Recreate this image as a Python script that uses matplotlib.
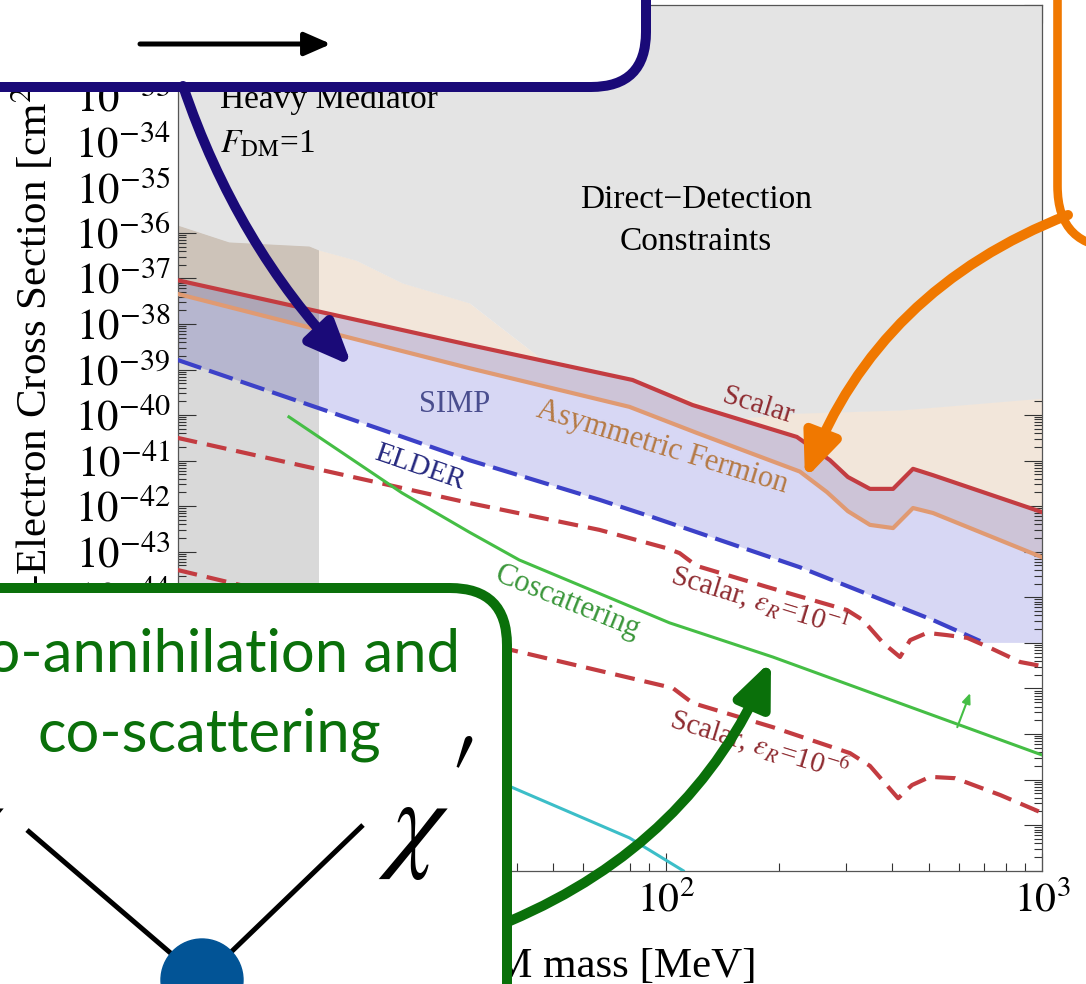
import numpy as np
import matplotlib
matplotlib.use("Agg")
import matplotlib.pyplot as plt
from matplotlib.patches import FancyBboxPatch, FancyArrowPatch, Circle, ArrowStyle
from matplotlib.ticker import LogLocator, NullFormatter, FuncFormatter

plt.rcParams["font.family"] = ["Liberation Serif", "DejaVu Serif"]
plt.rcParams["mathtext.fontset"] = "stix"

# datos: masa DM en MeV, log10 de la seccion eficaz [cm^2]
dd_mass = [5, 6.85, 11.2, 11.9, 14.9, 19.8, 29.9, 45.9, 81.3, 122.7, 156.9, 222.6, 418.8, 1000]
dd_logsig = [-35.83, -36.20, -36.29, -36.38, -36.60, -37.10, -37.54, -38.73, -39.20, -39.74,
             -40.07, -39.96, -39.89, -39.63]

scalar_mass = [5, 29.9, 81.3, 117.5, 222.6, 272.6, 304.4, 348.4, 401.4, 453.6, 512.9, 1000]
scalar_logsig = [-37.04, -38.46, -39.23, -39.78, -40.48, -40.99, -41.36, -41.62, -41.62,
                 -41.18, -41.32, -42.13]

fermion_mass = [5, 29.9, 79.8, 120.4, 226.7, 267.6, 304.4, 348.4, 401.4, 453.6, 512.9, 1000]
fermion_logsig = [-37.34, -38.97, -39.82, -40.39, -41.24, -41.69, -42.11, -42.41, -42.48,
                  -42.04, -42.15, -43.12]

elder_mass = [5, 17.2, 29.9, 66.4, 91.9, 226.7, 512.9, 684.6]
elder_logsig = [-38.79, -40.30, -40.99, -41.86, -42.24, -43.34, -44.50, -44.96]
simp_floor_mass = [684.6, 1000]
simp_floor_logsig = [-45.0, -45.0]

eps1_mass = [5, 29.9, 66.4, 100, 108.5, 120.4, 185.1, 302.7, 333.8, 377.5, 418.8, 445.7,
             494.3, 559.1, 632.4, 727.8, 875, 1000]
eps1_logsig = [-40.50, -41.93, -42.52, -42.92, -43.03, -43.31, -43.77, -44.28, -44.50, -45.00,
               -45.31, -44.94, -44.78, -44.83, -44.89, -45.11, -45.42, -45.51]

eps6_mass = [5, 38.9, 104, 117.5, 192.1, 308.3, 348.4, 414, 450.8, 503.5, 587.5, 774.5, 1000]
eps6_logsig = [-43.40, -45.16, -45.99, -46.32, -46.85, -47.42, -47.70, -48.41, -48.12, -47.94,
               -47.97, -48.34, -48.73]

cosc_mass = [9.9, 19.8, 29.9, 40.6, 102, 192.1, 1000]
cosc_logsig = [-40.04, -41.71, -42.57, -43.18, -44.56, -45.31, -47.46]

cyan_mass = [37.1, 79.8, 110.9]
cyan_logsig = [-48.10, -49.28, -50.0]

band_mass = [5, 11.9]
cosc_arrow_mass = [595, 644]
cosc_arrow_logsig = [-46.85, -46.10]

# exponentes de las etiquetas que quedan a la vista (el resto lo tapan los recuadros)
y_label_exp = range(-44, -32)
x_label_exp = [2, 3]

W, H = 1086, 984
fig = plt.figure(figsize=(W / 100, H / 100), dpi=100)
ax = fig.add_axes([177.5 / W, 1 - 870.7 / H, (1042 - 177.5) / W, (870.7 - 5) / H])
ax.set_xscale("log")
ax.set_yscale("log")
ax.set_xlim(5, 1000)
ax.set_ylim(1e-50, 1e-31)

sig = lambda a: 10.0 ** np.asarray(a)

# regiones
ax.fill_between(dd_mass, sig(dd_logsig), 1e-31, color="#e4e4e4", lw=0, zorder=1.6)
ax.fill(dd_mass + fermion_mass[::-1], np.concatenate([sig(dd_logsig), sig(fermion_logsig)[::-1]]),
        color="#f2e6da", lw=0, zorder=1.0)
low_m = elder_mass + simp_floor_mass
low_s = elder_logsig + simp_floor_logsig
ax.fill(scalar_mass + low_m[::-1], np.concatenate([sig(scalar_logsig), sig(low_s)[::-1]]),
        color=(0.35, 0.35, 0.82), alpha=0.24, lw=0, zorder=1.1)
ax.axvspan(band_mass[0], band_mass[1], color="k", alpha=0.15, lw=0, zorder=1.5)

# curvas
ax.plot(scalar_mass, sig(scalar_logsig), color="#c33c41", lw=3, zorder=3)
ax.plot(fermion_mass, sig(fermion_logsig), color="#e09a72", lw=3, zorder=2.9)
ax.plot(elder_mass, sig(elder_logsig), color="#3c41c8", lw=3, dashes=(6, 2), zorder=3)
ax.plot(eps1_mass, sig(eps1_logsig), color="#c33c41", lw=3, dashes=(4.8, 2.4), zorder=3)
ax.plot(eps6_mass, sig(eps6_logsig), color="#c33c41", lw=3, dashes=(4.8, 2.4), zorder=3)
ax.plot(cosc_mass, sig(cosc_logsig), color="#45be45", lw=2.2, zorder=3)
ax.plot(cyan_mass, sig(cyan_logsig), color="#3cbec8", lw=2.2, zorder=3)
ax.annotate("", xy=(cosc_arrow_mass[1], sig(cosc_arrow_logsig[1])),
            xytext=(cosc_arrow_mass[0], sig(cosc_arrow_logsig[0])),
            arrowprops=dict(arrowstyle="-|>,head_length=0.6,head_width=0.25", color="#45be45", lw=1.5,
                            shrinkA=0, shrinkB=0), zorder=3)

# etiquetas
ax.text(6.5, 5.5e-34, "Heavy Mediator", fontsize=24, va="baseline", zorder=4)
ax.text(6.5, 5.9e-35, r"$F_{\mathrm{DM}}$=1", fontsize=24, va="baseline", zorder=4)
ax.text(120, 3.5e-36, "Direct\u2212Detection", fontsize=24, ha="center", va="baseline", zorder=4)
ax.text(120, 4.2e-37, "Constraints", fontsize=24, ha="center", va="baseline", zorder=4)
ax.text(27.3, 1.17e-40, "SIMP", fontsize=22, color="#4a4e8e", ha="center", va="baseline", zorder=4)
lab = dict(rotation_mode="anchor", ha="center", va="center", zorder=4)
ax.text(22.0, 6.9e-42, "ELDER", fontsize=21, color="#25287e", rotation=-19, **lab)
ax.text(97.2, 2.0e-41, "Asymmetric Fermion", fontsize=22, color="#b57a45", rotation=-17, **lab)
ax.text(175.5, 1.58e-40, "Scalar", fontsize=21, color="#8e2b30", rotation=-17, **lab)
ax.text(177.4, 8.7e-45, r"Scalar, $\varepsilon_R$=10$^{-1}$", fontsize=21, color="#8e2b30",
        rotation=-17, **lab)
ax.text(177.4, 5.75e-48, r"Scalar, $\varepsilon_R$=10$^{-6}$", fontsize=21, color="#8e2b30",
        rotation=-17, **lab)
ax.text(54.5, 7.9e-45, "Coscattering", fontsize=22, color="#3a963a", rotation=-22, **lab)

# ejes
def exp_label(shown):
    def f(v, pos):
        e = int(round(np.log10(v)))
        return f"$10^{{{e}}}$" if e in shown else ""
    return FuncFormatter(f)

ax.yaxis.set_major_locator(LogLocator(base=10, numticks=40))
ax.yaxis.set_minor_locator(LogLocator(base=10, subs=np.arange(2, 10), numticks=40))
ax.xaxis.set_minor_locator(LogLocator(base=10, subs=np.arange(2, 10), numticks=40))
ax.yaxis.set_major_formatter(exp_label(list(y_label_exp)))
ax.xaxis.set_major_formatter(exp_label(x_label_exp))
ax.xaxis.set_minor_formatter(NullFormatter())
ax.yaxis.set_minor_formatter(NullFormatter())
ax.tick_params(which="both", direction="in", top=True, right=True, color="#333333", width=0.8)
ax.tick_params(which="major", length=13)
ax.tick_params(which="minor", length=5.5)
ax.tick_params(axis="y", which="major", pad=5, labelsize=31)
ax.tick_params(axis="x", which="major", pad=8, labelsize=30)
for s in ax.spines.values():
    s.set_color("#555555")
    s.set_linewidth(0.9)

ax.set_xlabel("DM mass [MeV]", fontsize=31, va="baseline")
ax.xaxis.set_label_coords(0.5, (870.7 - 977) / 865.7)
ax.set_ylabel("DM-Electron Cross Section [cm$^2$]", fontsize=31, ha="left", va="baseline")
ax.yaxis.set_label_coords((47 - 177.5) / 864.5, (870.7 - 658) / 865.7)

# capa de anotaciones de la diapositiva (coordenadas en pixeles)
ov = fig.add_axes([0, 0, 1, 1], zorder=10)
ov.set_xlim(0, W)
ov.set_ylim(H, 0)
ov.axis("off")
ov.patch.set_alpha(0)

navy, orange, green = "#1a0a78", "#f07800", "#0a700a"
ov.add_patch(FancyBboxPatch((-80, -80), 726, 167, boxstyle="round,pad=0,rounding_size=55",
                            fc="white", ec=navy, lw=7.2))
ov.add_patch(FancyBboxPatch((1057.5, -80), 200, 328, boxstyle="round,pad=0,rounding_size=62",
                            fc="white", ec=orange, lw=6.2))
ov.add_patch(FancyBboxPatch((-120, 588), 627, 500, boxstyle="round,pad=0,rounding_size=57",
                            fc="white", ec=green, lw=7.2))

ov.add_patch(FancyArrowPatch((140, 44), (331, 44), arrowstyle=ArrowStyle("-|>", head_length=16, head_width=7),
                             color="black", lw=3.6, shrinkA=0, shrinkB=0, mutation_scale=1))
big = ArrowStyle("-|>", head_length=26, head_width=11)
ov.add_patch(FancyArrowPatch((183, 86), (352, 366), connectionstyle="arc3,rad=0.11", arrowstyle=big,
                             color=navy, lw=7.2, shrinkA=0, shrinkB=0, mutation_scale=1))
ov.add_patch(FancyArrowPatch((1068, 215), (805, 479), connectionstyle="arc3,rad=0.22", arrowstyle=big,
                             color=orange, lw=7.2, shrinkA=0, shrinkB=0, mutation_scale=1))
ov.add_patch(FancyArrowPatch((510, 921), (771, 661), connectionstyle="arc3,rad=0.2", arrowstyle=big,
                             color=green, lw=7.2, shrinkA=0, shrinkB=0, mutation_scale=1))

ov.text(209, 672, "co-annihilation and", fontsize=43, family="Lato", color=green, ha="center", va="baseline")
ov.text(209, 752, "co-scattering", fontsize=43, family="Lato", color=green, ha="center", va="baseline")
ov.plot([27, 202], [830, 980], color="black", lw=3.6, solid_capstyle="butt", zorder=2)
ov.plot([363, 202], [825, 980], color="black", lw=3.6, solid_capstyle="butt", zorder=2)
ov.add_patch(Circle((202, 980), 41, color="#025496", zorder=3))
ov.text(414, 830, r"$\chi$", fontsize=82, ha="center", va="center")
ov.text(460, 784, r"$\prime$", fontsize=82, ha="center", va="center")
ov.text(-30, 830, r"$\chi$", fontsize=82, ha="center", va="center")

fig.savefig("out.png", dpi=100)
